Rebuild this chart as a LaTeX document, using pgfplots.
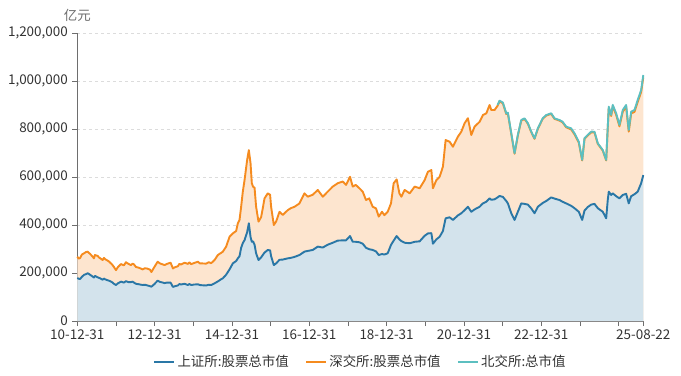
\documentclass[border=0pt]{standalone}
\usepackage{pgfplots}
\pgfplotsset{compat=1.18}
\usepackage{pgfplotstable}
\usepackage{fontspec}
\setmainfont{Noto Sans CJK SC}
\definecolor{shline}{HTML}{2A77A6}
\definecolor{szline}{HTML}{F58B1F}
\definecolor{bjline}{HTML}{5CBFC0}
\definecolor{shfill}{HTML}{D3E3EC}
\definecolor{szfill}{HTML}{FDE5CF}
\definecolor{axisgray}{HTML}{6E6E6E}
\definecolor{gridgray}{HTML}{DCDCDC}
\definecolor{txt}{HTML}{333333}
\pgfplotstableread{
t sh sz bj
0.000 179000 89000 0
0.035 176000 84000 0
0.070 175000 87000 0
0.120 184000 93000 0
0.173 192000 90000 0
0.220 195000 92000 0
0.269 199000 90000 0
0.300 196000 88000 0
0.328 193000 87000 0
0.398 185000 83000 0
0.430 181000 80000 0
0.457 188000 87000 0
0.527 182000 89000 0
0.560 180000 85000 0
0.587 178000 84000 0
0.656 172000 82000 0
0.690 177000 86000 0
0.716 174000 84000 0
0.780 170000 82000 0
0.819 168000 80000 0
0.897 162000 74000 0
0.948 155000 70000 0
1.000 150000 62000 0
1.052 157000 68000 0
1.129 164000 73000 0
1.207 160000 72000 0
1.258 166000 79000 0
1.323 162000 76000 0
1.388 162000 71000 0
1.430 164000 75000 0
1.465 160000 76000 0
1.517 155000 70000 0
1.594 153000 69000 0
1.690 150000 65000 0
1.749 151000 69000 0
1.819 148000 70000 0
1.879 145000 69000 0
1.917 143000 61000 0
1.982 152000 70000 0
2.078 168000 79000 0
2.137 163000 77000 0
2.189 161000 76000 0
2.258 158000 75000 0
2.318 160000 78000 0
2.413 160000 83000 0
2.473 142000 77000 0
2.525 145000 79000 0
2.602 148000 80000 0
2.640 154000 84000 0
2.680 152000 83000 0
2.775 155000 88000 0
2.860 150000 88000 0
2.900 154000 90000 0
2.946 150000 87000 0
3.028 152000 90000 0
3.119 153000 94000 0
3.170 150000 90000 0
3.222 149000 91000 0
3.333 148000 91000 0
3.400 151000 94000 0
3.463 150000 91000 0
3.550 157000 97000 0
3.636 165000 110000 0
3.721 174000 110000 0
3.765 178000 111000 0
3.850 193000 117000 0
3.938 215000 136000 0
4.023 240000 125000 0
4.109 250000 125000 0
4.152 261000 146000 0
4.196 270000 151000 0
4.238 305000 171000 0
4.282 325000 215000 0
4.326 337000 250000 0
4.393 370000 301000 0
4.437 407000 305000 0
4.481 350000 307000 0
4.514 330000 244000 0
4.545 332000 228000 0
4.585 318000 237000 0
4.625 282000 194000 0
4.687 254000 160000 0
4.755 265000 168000 0
4.798 275000 195000 0
4.842 285000 226000 0
4.928 296000 236000 0
4.987 294000 232000 0
5.013 270000 206000 0
5.083 233000 167000 0
5.142 240000 174000 0
5.230 255000 200000 0
5.315 256000 186000 0
5.444 261000 201000 0
5.522 263000 207000 0
5.618 267000 209000 0
5.747 275000 215000 0
5.876 289000 243000 0
5.961 292000 226000 0
6.090 296000 230000 0
6.220 310000 236000 0
6.349 306000 212000 0
6.478 318000 221000 0
6.607 326000 234000 0
6.736 335000 239000 0
6.866 336000 245000 0
6.951 336000 231000 0
7.054 354000 247000 0
7.124 330000 230000 0
7.202 330000 237000 0
7.297 328000 225000 0
7.382 322000 217000 0
7.468 305000 199000 0
7.550 299000 212000 0
7.641 296000 180000 0
7.726 290000 179000 0
7.796 275000 160000 0
7.881 279000 176000 0
7.943 277000 164000 0
8.028 282000 173000 0
8.114 317000 173000 0
8.183 335000 239000 0
8.261 354000 236000 0
8.331 340000 192000 0
8.382 333000 185000 0
8.468 326000 220000 0
8.597 324000 208000 0
8.726 330000 230000 0
8.855 332000 221000 0
8.984 355000 232000 0
9.070 365000 257000 0
9.158 366000 263000 0
9.199 322000 231000 0
9.287 340000 247000 0
9.372 351000 250000 0
9.457 375000 268000 0
9.527 428000 326000 0
9.630 432000 315000 0
9.716 421000 305000 0
9.845 440000 328000 0
9.933 449000 340000 0
10.018 462000 362000 0
10.103 476000 369000 0
10.191 455000 320000 0
10.277 465000 345000 0
10.406 476000 354000 0
10.491 490000 368000 0
10.579 497000 368000 0
10.664 511000 389000 0
10.708 505000 374000 0
10.793 507000 372000 0
10.871 515000 382000 3000
10.922 521000 394000 3000
11.008 517000 390000 3000
11.096 500000 362000 2800
11.137 490000 375000 2800
11.225 449000 331000 2400
11.310 421000 276000 2200
11.395 455000 318000 2300
11.483 490000 345000 2400
11.568 488000 354000 2300
11.654 485000 337000 2200
11.742 469000 318000 2000
11.827 449000 310000 1900
11.912 476000 325000 2000
12.041 492000 351000 2100
12.129 500000 356000 2200
12.258 515000 348000 2300
12.344 510000 332000 2300
12.473 504000 331000 2300
12.550 497000 331000 2500
12.646 490000 317000 2800
12.775 480000 318000 4500
12.860 470000 308000 4000
12.972 455000 288000 3500
13.059 421000 248000 2200
13.119 460000 299000 2500
13.204 475000 298000 2700
13.292 485000 301000 2800
13.377 488000 298000 2700
13.463 470000 268000 2400
13.592 455000 255000 2200
13.680 428000 241000 2100
13.721 505000 302000 3000
13.747 539000 350000 4000
13.809 525000 329000 4500
13.850 532000 363000 5500
13.938 520000 339000 6000
14.023 511000 300000 6000
14.109 525000 347000 7000
14.196 530000 362000 8000
14.264 490000 299000 7000
14.326 520000 345000 7000
14.411 528000 343000 8000
14.496 539000 374000 8000
14.584 574000 380000 8500
14.640 608000 408000 9000
}\data
\begin{document}
\begin{tikzpicture}
\useasboundingbox (0bp,0bp) rectangle (681bp,376bp);
\begin{axis}[
  at={(77.3bp,55bp)}, anchor=south west,
  scale only axis, width=566bp, height=288bp,
  xmin=0, xmax=14.64, ymin=0, ymax=1200000,
  axis lines=left,
  axis line style={draw=axisgray, line width=0.8bp, -},
  tick style={draw=axisgray, line width=0.8bp},
  tick align=outside,
  major tick length=5bp,
  xtick={0,1,2,3,4,5,6,7,8,9,10,11,12,13,14,14.64},
  xticklabels={10-12-31,,12-12-31,,14-12-31,,16-12-31,,18-12-31,,20-12-31,,22-12-31,,,25-08-22},
  ytick={0,200000,400000,600000,800000,1000000,1200000},
  scaled y ticks=false,
  /pgf/number format/fixed,
  /pgf/number format/1000 sep={,},
  /pgf/number format/assume math mode=true,
  ticklabel style={font=\fontsize{13.5}{15}\selectfont, text=txt},
  xticklabel style={yshift=-0.5bp},
  yticklabel style={xshift=-1bp},
  ymajorgrids,
  grid style={dashed, draw=gridgray, line width=0.8bp},
  legend style={at={(0.5,-0.142)}, anchor=center, draw=none, fill=none,
    legend columns=3, font=\fontsize{13.5}{15}\selectfont, text=txt,
    /tikz/every even column/.append style={column sep=14bp}},
  legend image code/.code={\draw[#1, line width=2.5bp] (0bp,0bp) -- (20bp,0bp);},
  clip=false,
]
\addplot[draw=none, fill=szfill, forget plot] table[x=t, y expr=\thisrow{sh}+\thisrow{sz}] {\data} \closedcycle;
\addplot[draw=none, fill=shfill, forget plot] table[x=t, y=sh] {\data} \closedcycle;
\addplot[shline, line width=1.9bp, line join=round] table[x=t, y=sh] {\data};
\addlegendentry{上证所:股票总市值}
\addplot[szline, line width=1.9bp, line join=round] table[x=t, y expr=\thisrow{sh}+\thisrow{sz}] {\data};
\addlegendentry{深交所:股票总市值}
\addplot[bjline, line width=1.9bp, line join=round, restrict x to domain=10.86:20] table[x=t, y expr=\thisrow{sh}+\thisrow{sz}+\thisrow{bj}] {\data};
\addlegendentry{北交所:总市值}
\node[font=\fontsize{13.5}{15}\selectfont, text=axisgray] at (rel axis cs:0,1) [yshift=18bp] {亿元};
\end{axis}
\end{tikzpicture}
\end{document}
